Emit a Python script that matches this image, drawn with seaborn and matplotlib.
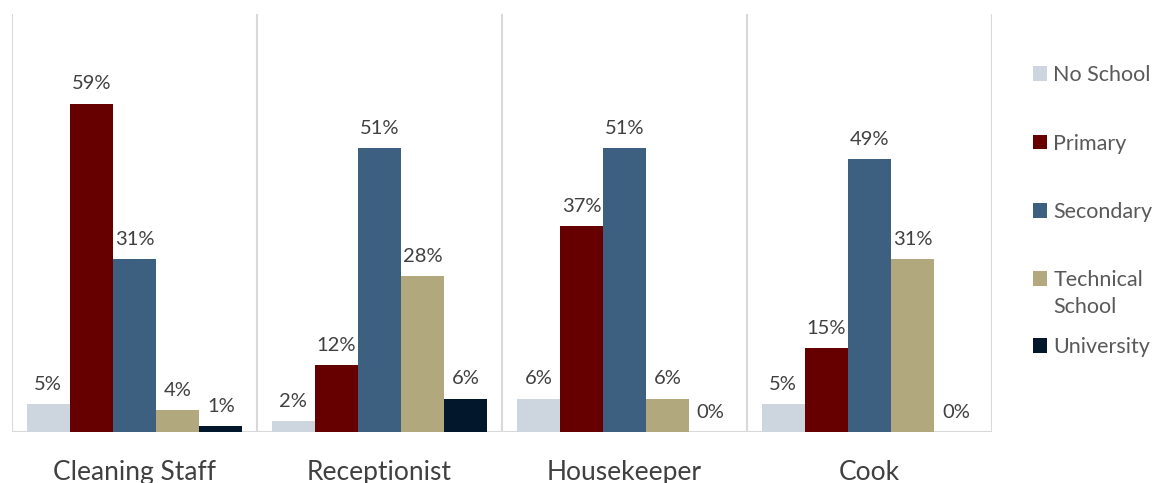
import matplotlib
matplotlib.use("Agg")
import matplotlib.pyplot as plt
import matplotlib.patches as mpatches
from matplotlib.legend_handler import HandlerPatch
import seaborn as sns
import pandas as pd

jobs = ["Cleaning Staff", "Receptionist", "Housekeeper", "Cook"]
levels = ["No School", "Primary", "Secondary", "Technical\nSchool", "University"]
no_school = [5, 2, 6, 5]
primary = [59, 12, 37, 15]
secondary = [31, 51, 51, 49]
technical = [4, 28, 6, 31]
university = [1, 6, 0, 0]
colors = ["#cdd5df", "#660000", "#3d6080", "#b2a87e", "#03172c"]

series = [no_school, primary, secondary, technical, university]
rows = []
for lvl, vals in zip(levels, series):
    for job, v in zip(jobs, vals):
        rows.append({"job": job, "level": lvl, "pct": v})
df = pd.DataFrame(rows)

sns.set_theme(style="white")
plt.rcParams["font.family"] = ["Lato", "DejaVu Sans"]

W, H = 1156, 483
fig = plt.figure(figsize=(W / 100, H / 100), dpi=100)
ax = fig.add_axes([0.0104, 0.1056, 0.8478, 0.8644])

sns.barplot(data=df, x="job", y="pct", hue="level", hue_order=levels,
            order=jobs, palette=colors, width=0.88, saturation=1,
            linewidth=0, ax=ax, legend=True)

for cont in ax.containers:
    ax.bar_label(cont, labels=[f"{v:.0f}%" for v in cont.datavalues],
                 padding=8, fontsize=14.5, color="#404040")

ax.set_ylim(0, 75)
ax.set_xlim(-0.5, 3.5)
grid = "#d9d9d9"
ax.vlines([-0.5, 0.5, 1.5, 2.5, 3.5], 0, 75, colors=grid, linewidth=1.5, zorder=0)
ax.axhline(0, color=grid, linewidth=1.5, zorder=0)
for s in ax.spines.values():
    s.set_visible(False)
ax.set_yticks([])
ax.set_xlabel("")
ax.set_ylabel("")
ax.tick_params(axis="x", length=0, pad=20, labelsize=19, labelcolor="#404040")

handles, labels = ax.get_legend_handles_labels()
ax.get_legend().remove()


def top_line_patch(legend, orig_handle, xdescent, ydescent, width, height, fontsize):
    # keep the swatch level with the first line of a two-line label
    return mpatches.Rectangle((-xdescent, -ydescent + 0.72 * fontsize), width, height)


leg_kw = dict(frameon=False, fontsize=15.5, labelcolor="#595959",
              handlelength=0.65, handleheight=0.65, handletextpad=0.3,
              borderpad=0, borderaxespad=0)

leg1 = fig.legend(handles[:4], labels[:4], loc="center left",
                  bbox_to_anchor=(1033 / W, 1 - 191 / H), labelspacing=2.25,
                  handler_map={handles[3]: HandlerPatch(patch_func=top_line_patch)},
                  **leg_kw)
for t in leg1.get_texts():
    t.set_linespacing(1.4)

fig.legend(handles[4:], labels[4:], loc="center left",
           bbox_to_anchor=(1033 / W, 1 - 347 / H), **leg_kw)

fig.savefig("out.png", dpi=100)
